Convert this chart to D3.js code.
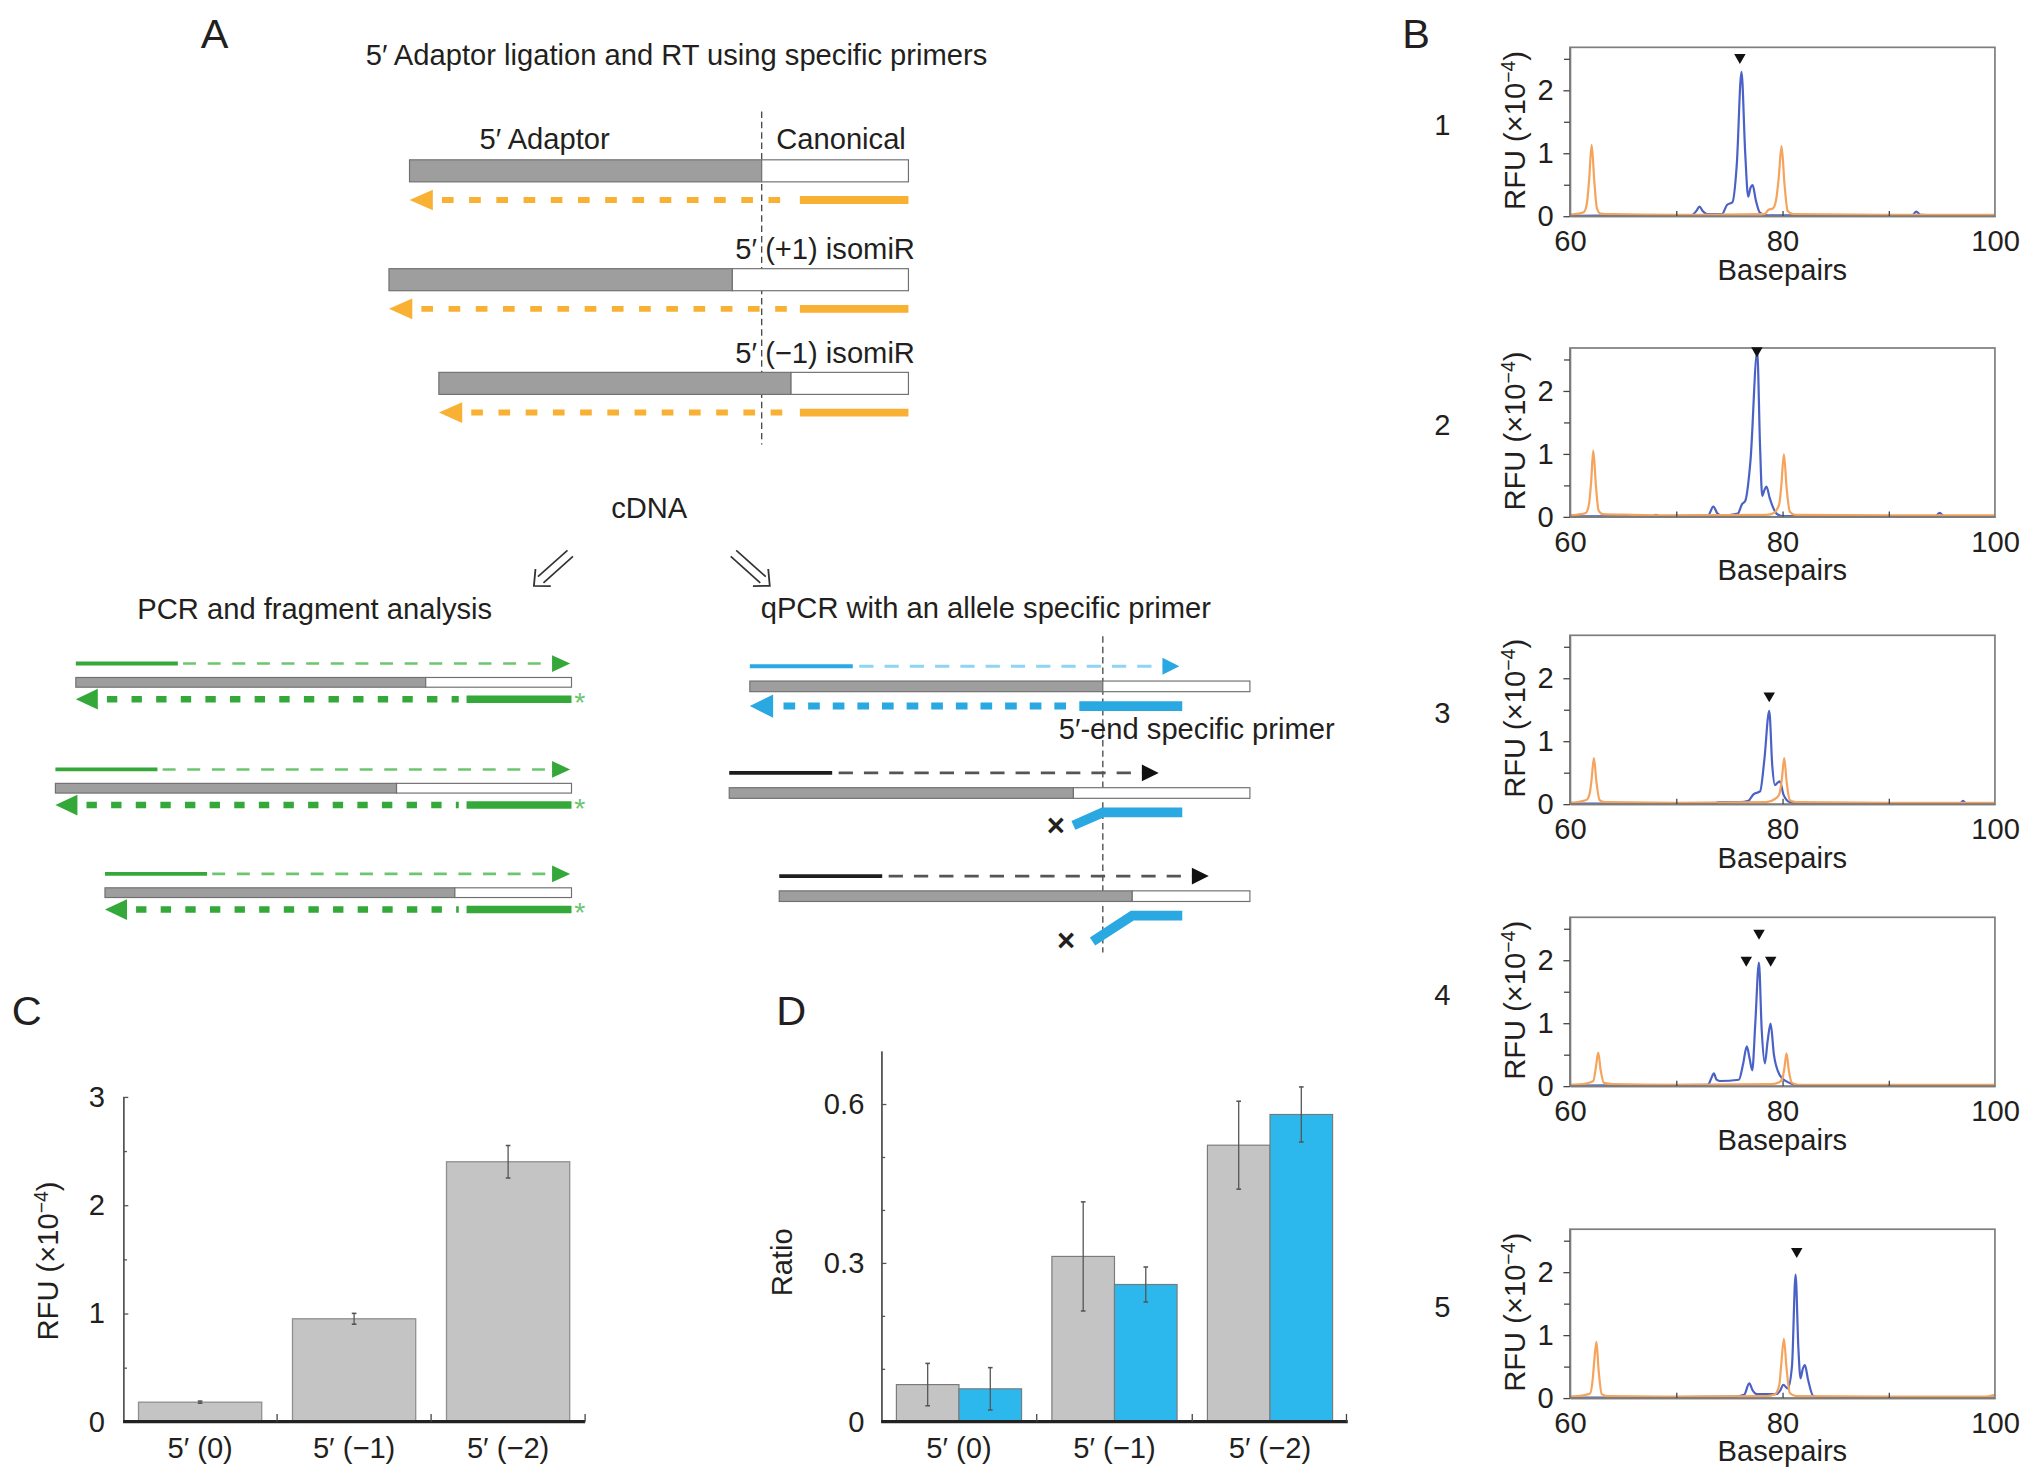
<!DOCTYPE html>
<html>
<head>
<meta charset="utf-8">
<style>
  body { margin: 0; background: #fff; }
  svg { display: block; }
  text { font-family: "Liberation Sans", Arial, Helvetica, sans-serif; fill: #231f20; }
</style>
</head>
<body>
<svg id="fig" width="2032" height="1483"></svg>
<script src="https://cdn.jsdelivr.net/npm/d3@7"></script>
<script>
// ---------------- data ----------------
// schematic constructs, positions in nucleotides relative to the canonical 5' end
const constructs = [
  { name: "Canonical",       start: -12,   junction: 0,  end: 5 },
  { name: "5\u2032 (+1) isomiR", start: -12.7, junction: -1, end: 5 },
  { name: "5\u2032 (\u22121) isomiR", start: -11, junction: 1, end: 5 }
];
const rtPrimerSolidFrom = 1.3;
const pcrPrimerSolidFrom = 1.4;
const fwdSolidLen = 3.5;
const qFwdLen = 14.6;
const qPrimer = [-0.8, 2.7];
// bent primer in rows 2 and 3: [bend start nt, end nt, drop]
const qBends = [null, [0, -1.0, 10], [1, -0.35, 20]];
const qCross = [null, [-1.6, 11], [-1.25, 20]];

// panel B: electropherograms, [basepairs, RFU x10^-4]
const bLabels = ["1", "2", "3", "4", "5"];
const bSizeStd = [
  [[60,0.02],[60.8,0.04],[61.3,0.06],[61.6,0.2],[61.8,0.55],[62.05,1.13],[62.3,0.55],[62.55,0.12],[62.9,0.04],[64,0.03],[70,0.02],[78.3,0.03],[78.7,0.1],[79.1,0.12],[79.4,0.25],[79.65,0.6],[79.92,1.11],[80.2,0.5],[80.5,0.08],[81,0.03],[90,0.02],[100,0.02]],
  [[60,0.02],[61.0,0.04],[61.5,0.06],[61.8,0.2],[62.0,0.55],[62.2,1.05],[62.45,0.5],[62.7,0.1],[63.1,0.04],[66,0.03],[70,0.02],[78.5,0.03],[79.2,0.06],[79.7,0.2],[79.9,0.5],[80.14,0.99],[80.4,0.45],[80.7,0.08],[81.2,0.03],[90,0.02],[100,0.02]],
  [[60,0.02],[61.0,0.04],[61.6,0.07],[61.9,0.2],[62.05,0.4],[62.26,0.73],[62.5,0.35],[62.8,0.06],[63.3,0.03],[70,0.02],[78.5,0.03],[79.3,0.08],[79.7,0.15],[79.95,0.4],[80.17,0.73],[80.4,0.35],[80.7,0.06],[81.3,0.03],[90,0.02],[100,0.02]],
  [[60,0.02],[61.5,0.04],[62.2,0.08],[62.45,0.3],[62.67,0.53],[62.9,0.25],[63.2,0.05],[64,0.03],[70,0.02],[79,0.03],[79.7,0.06],[80.0,0.12],[80.2,0.3],[80.39,0.52],[80.6,0.25],[80.9,0.05],[81.5,0.02],[90,0.02],[100,0.02]],
  [[60,0.02],[61.2,0.04],[61.9,0.07],[62.15,0.3],[62.3,0.6],[62.5,0.89],[62.7,0.45],[63.0,0.06],[63.5,0.03],[70,0.02],[78.5,0.03],[79.3,0.06],[79.7,0.2],[79.9,0.55],[80.14,0.94],[80.4,0.45],[80.7,0.08],[81.3,0.03],[90,0.02],[99,0.02],[100,0.05]]
];
const bSignal = [
  [[60,0.005],[71.4,0.01],[71.9,0.08],[72.2,0.15],[72.5,0.08],[72.9,0.03],[74.3,0.03],[74.8,0.18],[75.3,0.22],[75.7,0.8],[76.15,2.29],[76.5,1.0],[76.78,0.31],[77.0,0.45],[77.2,0.49],[77.5,0.25],[77.9,0.05],[78.6,0.01],[92.2,0.01],[92.6,0.07],[93.0,0.02],[100,0.005]],
  [[60,0.005],[67.8,0.01],[68.1,0.03],[68.4,0.01],[73.0,0.02],[73.5,0.16],[73.9,0.05],[74.3,0.02],[75.8,0.05],[76.2,0.2],[76.5,0.25],[77.0,0.9],[77.63,2.62],[77.9,1.1],[78.1,0.33],[78.3,0.42],[78.5,0.48],[78.8,0.3],[79.45,0.05],[80,0.01],[94.4,0.01],[94.8,0.06],[95.2,0.01],[100,0.005]],
  [[60,0.005],[73.6,0.01],[74,0.03],[76,0.03],[76.8,0.05],[77.25,0.15],[77.6,0.18],[77.9,0.2],[78.3,0.7],[78.76,1.48],[79.05,0.6],[79.3,0.3],[79.55,0.34],[79.76,0.36],[80.1,0.15],[80.7,0.03],[81.5,0.01],[96.7,0.01],[97,0.05],[97.3,0.01],[100,0.005]],
  [[60,0.005],[73.0,0.02],[73.3,0.12],[73.55,0.2],[73.8,0.1],[74.1,0.08],[75.9,0.1],[76.3,0.35],[76.65,0.63],[76.9,0.45],[77.16,0.25],[77.45,1.0],[77.79,1.96],[78.05,0.9],[78.35,0.36],[78.6,0.7],[78.89,0.99],[79.2,0.5],[79.76,0.17],[80.3,0.08],[81.0,0.03],[81.6,0.01],[100,0.005]],
  [[60,0.005],[75.5,0.02],[76.4,0.05],[76.88,0.23],[77.2,0.12],[77.6,0.06],[79.4,0.06],[79.8,0.12],[80.08,0.21],[80.5,0.15],[80.9,0.5],[81.24,1.96],[81.5,0.8],[81.71,0.31],[81.9,0.45],[82.12,0.52],[82.4,0.3],[82.9,0.03],[83.5,0.01],[100,0.005]]
];
const bMarkers = [
  [[76.0,2.52]],
  [[77.6,2.64]],
  [[78.76,1.72]],
  [[77.8,2.43],[76.6,2.0],[78.9,2.0]],
  [[81.35,2.33]]
];
const bXTicks = [60, 80, 100];
const bYTicks = [0, 1, 2];

// panel C
const cCategories = ["5\u2032 (0)", "5\u2032 (\u22121)", "5\u2032 (\u22122)"];
const cValues = [0.18, 0.95, 2.40];
const cErrors = [0.01, 0.05, 0.15];
const cTicks = [0, 1, 2, 3];

// panel D
const dSeries = ["fragment", "qpcr"];
const dFragment = [0.07, 0.312, 0.522];
const dFragmentErr = [0.04, 0.103, 0.083];
const dQpcr = [0.062, 0.259, 0.58];
const dQpcrErr = [0.04, 0.033, 0.052];
const dTicks = [0, 0.3, 0.6];

// ---------------- setup ----------------
const svg = d3.select("#fig").attr("viewBox", "0 0 1568 1144.3");
const FS = 22.5;
const GRAY = "#9e9e9e", ORANGE = "#f8b133", GREEN = "#35a83a", GREEN_L = "#6cc56f",
      BLUE = "#2aa8e2", BLUE_L = "#8fd4f2", BAR_GRAY = "#c4c4c4", BAR_BLUE = "#2db8ed";

function txt(g, x, y, s, size, anchor) {
  return g.append("text").attr("x", x).attr("y", y)
    .attr("font-size", size || FS).attr("text-anchor", anchor || "start").text(s);
}
function hline(g, x1, x2, y, color, w, dash) {
  return g.append("line").attr("x1", x1).attr("x2", x2).attr("y1", y).attr("y2", y)
    .attr("stroke", color).attr("stroke-width", w).attr("stroke-dasharray", dash || null);
}
function head(g, tip, y, dir, len, half, color) {
  g.append("path").attr("d", `M${tip},${y}L${tip - dir * len},${y - half}L${tip - dir * len},${y + half}Z`)
    .attr("fill", color);
}
function bar(g, x, c, yc, h) {
  g.append("rect").attr("x", x(c.start)).attr("y", yc - h / 2)
    .attr("width", x(c.junction) - x(c.start)).attr("height", h)
    .attr("fill", GRAY).attr("stroke", "#707070").attr("stroke-width", 0.9);
  g.append("rect").attr("x", x(c.junction)).attr("y", yc - h / 2)
    .attr("width", x(c.end) - x(c.junction)).attr("height", h)
    .attr("fill", "#fff").attr("stroke", "#707070").attr("stroke-width", 0.9);
}
function vdash(g, x, y1, y2) {
  g.append("line").attr("x1", x).attr("x2", x).attr("y1", y1).attr("y2", y2)
    .attr("stroke", "#444").attr("stroke-width", 1).attr("stroke-dasharray", "5,3");
}

// panel letters
txt(svg, 155, 37, "A", 32);
txt(svg, 1082, 37, "B", 32);
txt(svg, 9, 791, "C", 32);
txt(svg, 599, 791, "D", 32);

// ---------------- panel A: RT ----------------
const gA = svg.append("g");
const rtX = d3.scaleLinear().domain([-12, 5]).range([316, 701]);
const rtY = [131.8, 215.8, 295.8];
txt(gA, 522, 50, "5\u2032 Adaptor ligation and RT using specific primers", FS, "middle");
txt(gA, 370, 115, "5\u2032 Adaptor");
txt(gA, 599, 115, "Canonical");
vdash(gA, rtX(0), 86, 343);
constructs.forEach((c, i) => {
  const y = rtY[i];
  bar(gA, rtX, c, y, 17);
  if (i > 0) txt(gA, 706, y - 16, c.name, FS, "end");
  const py = y + 22.5, tip = rtX(c.start);
  head(gA, tip, py, -1, 18, 8, ORANGE);
  hline(gA, tip + 25, rtX(rtPrimerSolidFrom) - 8, py, ORANGE, 4.6, "9,12");
  hline(gA, rtX(rtPrimerSolidFrom), rtX(c.end), py, ORANGE, 6);
});

txt(gA, 501, 400, "cDNA", FS, "middle");

// hollow double arrows
function dblArrow(g, x1, y1, x2, y2) {
  const a = Math.atan2(y2 - y1, x2 - x1), off = 3.2, hl = 13;
  const nx = -Math.sin(a), ny = Math.cos(a);
  const bx = x2 - Math.cos(a) * 7, by = y2 - Math.sin(a) * 7;
  [-1, 1].forEach(s => g.append("line")
    .attr("x1", x1 + nx * off * s).attr("y1", y1 + ny * off * s)
    .attr("x2", bx + nx * off * s).attr("y2", by + ny * off * s)
    .attr("stroke", "#333").attr("stroke-width", 1.3));
  const p1 = [x2 - Math.cos(a - 0.75) * hl, y2 - Math.sin(a - 0.75) * hl];
  const p2 = [x2 - Math.cos(a + 0.75) * hl, y2 - Math.sin(a + 0.75) * hl];
  g.append("path").attr("d", `M${p1}L${x2},${y2}L${p2}`).attr("fill", "none")
    .attr("stroke", "#333").attr("stroke-width", 1.4);
}
dblArrow(gA, 440, 427, 412, 452);
dblArrow(gA, 566, 427, 594, 452);

// ---------------- panel A: PCR ----------------
txt(gA, 106, 477.5, "PCR and fragment analysis");
const pcrX = d3.scaleLinear().domain([-12, 5]).range([58.5, 441]);
const pcrY = [526.5, 608.2, 688.8];
constructs.forEach((c, i) => {
  const y = pcrY[i];
  bar(gA, pcrX, c, y, 7.5);
  // forward primer
  const fy = y - 14.5, s = pcrX(c.start);
  hline(gA, s, pcrX(c.start + fwdSolidLen), fy, GREEN, 3);
  hline(gA, pcrX(c.start + fwdSolidLen) + 4, pcrX(c.end) - 12, fy, GREEN_L, 2, "10,9");
  head(gA, pcrX(c.end) - 1, fy, 1, 14, 6.5, GREEN);
  // reverse labelled primer
  const ry = y + 13;
  head(gA, s, ry, -1, 17, 8, GREEN);
  hline(gA, s + 24, pcrX(pcrPrimerSolidFrom) - 6, ry, GREEN, 5, "8,11");
  hline(gA, pcrX(pcrPrimerSolidFrom), pcrX(c.end), ry, GREEN, 5.8);
  txt(gA, pcrX(c.end) + 6.5, ry + 10, "*", 22, "middle").style("fill", GREEN_L);
});

// ---------------- panel A: qPCR ----------------
txt(gA, 587, 477, "qPCR with an allele specific primer");
const qX = d3.scaleLinear().domain([-12, 5]).range([851 - 12 * 22.7, 851 + 5 * 22.7]);
const qY = [529.6, 611.9, 691.5];
vdash(gA, qX(0), 491, 735);
constructs.forEach((c, i) => {
  const y = qY[i];
  bar(gA, qX, c, y, 8.2);
  const fy = y - 15.5, s = qX(c.start);
  const solidC = i === 0 ? BLUE : "#1e1e1e", dashC = i === 0 ? BLUE_L : "#555";
  hline(gA, s, qX(c.start + fwdSolidLen), fy, solidC, 3);
  hline(gA, qX(c.start + fwdSolidLen) + 5, qX(c.start + qFwdLen) - 12, fy, dashC, 2.2, "11,8.5");
  head(gA, qX(c.start + qFwdLen), fy, 1, 13, 6.5, i === 0 ? BLUE : "#111");
  if (i === 0) {
    const ry = y + 15.2;
    head(gA, s, ry, -1, 18, 9, BLUE);
    hline(gA, s + 26, qX(qPrimer[0]) - 6, ry, BLUE, 5.5, "9,10");
    hline(gA, qX(qPrimer[0]), qX(qPrimer[1]), ry, BLUE, 7.5);
  } else {
    const [b0, b1, drop] = qBends[i];
    const ry = y + 15;
    gA.append("path")
      .attr("d", `M${qX(qPrimer[1])},${ry}L${qX(b0)},${ry}L${qX(b1)},${ry + drop}`)
      .attr("fill", "none").attr("stroke", BLUE).attr("stroke-width", 7.5);
    const [cx, cy] = qCross[i];
    txt(gA, qX(cx), y + 15 + cy + 7, "\u00d7", 24, "middle").attr("font-weight", "bold");
  }
});
txt(gA, 817, 570, "5\u2032-end specific primer");

// ---------------- panel B ----------------
const gB = svg.append("g");
const bx = d3.scaleLinear().domain([60, 100]).range([1211.4, 1539.4]);
const bTop = [36.5, 268.5, 490.2, 707.8, 948.5];
const bH = 130.2;
const traceLine = d3.line().curve(d3.curveMonotoneX);
svg.append("defs").append("clipPath").attr("id", "bclip")
  .append("rect").attr("x", 0).attr("y", 0).attr("width", bx(100) - bx(60)).attr("height", bH + 1);

bLabels.forEach((lab, i) => {
  const top = bTop[i], bottom = top + bH;
  const y = d3.scaleLinear().domain([0, 2.68]).range([bottom, top]);
  const g = gB.append("g");
  txt(g, 1113, top + 67.5, lab, FS, "middle");

  // rotated y label
  const yl = g.append("text").attr("transform", `translate(1177,${top + bH / 2 - 1}) rotate(-90)`)
    .attr("text-anchor", "middle").attr("font-size", FS);
  yl.append("tspan").text("RFU (\u00d710");
  yl.append("tspan").attr("dy", -8).attr("font-size", 15).text("\u22124");
  yl.append("tspan").attr("dy", 8).text(")");

  // traces
  const plot = g.append("g").attr("transform", `translate(${bx(60)},${top})`)
    .append("g").attr("clip-path", "url(#bclip)")
    .append("g").attr("transform", `translate(${-bx(60)},${-top})`);
  plot.append("path").attr("d", traceLine(bSignal[i].map(d => [bx(d[0]), y(d[1])])))
    .attr("fill", "none").attr("stroke", "#4a62c6").attr("stroke-width", 1.7);
  plot.append("path").attr("d", traceLine(bSizeStd[i].map(d => [bx(d[0]), y(d[1])])))
    .attr("fill", "none").attr("stroke", "#f6a35b").attr("stroke-width", 1.7);

  // frame
  g.append("rect").attr("x", bx(60)).attr("y", top).attr("width", bx(100) - bx(60)).attr("height", bH)
    .attr("fill", "none").attr("stroke", "#7d7d7d").attr("stroke-width", 1.3);

  // axes
  g.append("g").attr("transform", `translate(${bx(60)},0)`)
    .call(d3.axisLeft(y).tickValues(bYTicks).tickSize(5).tickPadding(7.5).tickSizeOuter(0)
      .tickFormat(d3.format("d")));
  g.append("g").attr("transform", `translate(${bx(60)},0)`)
    .call(d3.axisLeft(y).tickValues([0.5, 1.5, 2.5]).tickSize(4.5).tickFormat("").tickSizeOuter(0));
  g.append("g").attr("transform", `translate(0,${bottom})`)
    .call(d3.axisBottom(bx).tickValues(bXTicks).tickSize(0).tickPadding(11).tickFormat(d3.format("d")));
  g.append("g").attr("transform", `translate(0,${bottom})`)
    .call(d3.axisBottom(bx).tickValues([70, 80, 90]).tickSize(-4).tickFormat("").tickSizeOuter(0));
  txt(g, bx(80), bottom + 49, "Basepairs", FS, "middle");

  // peak markers
  g.selectAll("path.mk").data(bMarkers[i]).join("path").attr("class", "mk")
    .attr("d", d3.symbol(d3.symbolTriangle, 34))
    .attr("transform", d => `translate(${bx(d[0])},${y(d[1])}) rotate(180)`)
    .attr("fill", "#111");
});
gB.selectAll(".domain").attr("stroke", "#7d7d7d");
gB.selectAll(".tick line").attr("stroke", "#444");
gB.selectAll(".tick text").attr("font-size", FS).attr("font-family", null).style("fill", "#231f20");

// ---------------- panel C ----------------
const gC = svg.append("g");
const cX = d3.scaleBand().domain(cCategories).range([95, 451.5]).paddingInner(0.2).paddingOuter(0.1);
const cY = d3.scaleLinear().domain([0, 3]).range([1097, 846.3]);
gC.selectAll("rect").data(cValues).join("rect")
  .attr("x", (d, i) => cX(cCategories[i])).attr("width", cX.bandwidth())
  .attr("y", d => cY(d)).attr("height", d => cY(0) - cY(d))
  .attr("fill", BAR_GRAY).attr("stroke", "#8f8f8f").attr("stroke-width", 1);
cValues.forEach((v, i) => {
  const cx = cX(cCategories[i]) + cX.bandwidth() / 2;
  gC.append("line").attr("x1", cx).attr("x2", cx).attr("y1", cY(v - cErrors[i])).attr("y2", cY(v + cErrors[i]))
    .attr("stroke", "#555").attr("stroke-width", 1);
  [v - cErrors[i], v + cErrors[i]].forEach(e => hline(gC, cx - 1.8, cx + 1.8, cY(e), "#555", 1.2));
});
gC.append("g").attr("transform", "translate(95,0)")
  .call(d3.axisLeft(cY).tickValues(cTicks).tickSize(-4).tickPadding(14).tickSizeOuter(0).tickFormat(d3.format("d")));
gC.append("g").attr("transform", "translate(95,0)")
  .call(d3.axisLeft(cY).tickValues([0.5, 1.5, 2.5]).tickSize(-3).tickFormat("").tickSizeOuter(0));
gC.append("g").attr("transform", "translate(0,1097)")
  .call(d3.axisBottom(cX).tickSize(0).tickPadding(12)).select(".domain").remove();
hline(gC, 95, 451.5, 1097, "#222", 2.4);
cCategories.forEach((c, i) => {
  const x = 95 + cX.step() * (i + 1);
  gC.append("line").attr("x1", x).attr("x2", x).attr("y1", 1097).attr("y2", 1091).attr("stroke", "#444");
});
const cyl = gC.append("text").attr("transform", "translate(45,973) rotate(-90)")
  .attr("text-anchor", "middle").attr("font-size", FS);
cyl.append("tspan").text("RFU (\u00d710");
cyl.append("tspan").attr("dy", -8).attr("font-size", 15).text("\u22124");
cyl.append("tspan").attr("dy", 8).text(")");

// ---------------- panel D ----------------
const gD = svg.append("g");
const dX0 = d3.scaleBand().domain(cCategories).range([680, 1040]).paddingInner(0.195).paddingOuter(0.0975);
const dX1 = d3.scaleBand().domain(dSeries).range([0, dX0.bandwidth()]);
const dY = d3.scaleLinear().domain([0, 0.7]).range([1097, 1097 - 0.7 * 408.7]);
const dColor = d3.scaleOrdinal().domain(dSeries).range([BAR_GRAY, BAR_BLUE]);
const dVals = { fragment: dFragment, qpcr: dQpcr };
const dErrs = { fragment: dFragmentErr, qpcr: dQpcrErr };
dSeries.forEach(s => {
  dVals[s].forEach((v, i) => {
    const x = dX0(cCategories[i]) + dX1(s);
    gD.append("rect").attr("x", x).attr("width", dX1.bandwidth())
      .attr("y", dY(v)).attr("height", dY(0) - dY(v))
      .attr("fill", dColor(s)).attr("stroke", "#7a7a7a").attr("stroke-width", 0.9);
    const cx = x + dX1.bandwidth() / 2, e = dErrs[s][i];
    gD.append("line").attr("x1", cx).attr("x2", cx).attr("y1", dY(v - e)).attr("y2", dY(v + e))
      .attr("stroke", "#555").attr("stroke-width", 1);
    [v - e, v + e].forEach(t => hline(gD, cx - 1.8, cx + 1.8, dY(t), "#555", 1.2));
  });
});
gD.append("g").attr("transform", "translate(680,0)")
  .call(d3.axisLeft(dY).tickValues(dTicks).tickSize(-4).tickPadding(13).tickSizeOuter(0)
    .tickFormat(d => d === 0 ? "0" : d.toFixed(1)));
gD.append("g").attr("transform", "translate(680,0)")
  .call(d3.axisLeft(dY).tickValues([0.1, 0.2, 0.4, 0.5]).tickSize(-3).tickFormat("").tickSizeOuter(0));
gD.append("g").attr("transform", "translate(0,1097)")
  .call(d3.axisBottom(dX0).tickSize(0).tickPadding(12)).select(".domain").remove();
hline(gD, 680, 1040, 1097, "#222", 2.4);
cCategories.forEach((c, i) => {
  const x = 680 + dX0.step() * (i + 1) - (i === 2 ? 1 : 0);
  gD.append("line").attr("x1", x).attr("x2", x).attr("y1", 1097).attr("y2", 1091).attr("stroke", "#444");
});
gD.append("text").attr("transform", "translate(611,974) rotate(-90)")
  .attr("text-anchor", "middle").attr("font-size", FS).text("Ratio");

[gC, gD].forEach(g => {
  g.selectAll(".domain").attr("stroke", "#555").attr("stroke-width", 1.1);
  g.selectAll(".tick line").attr("stroke", "#555");
  g.selectAll(".tick text").attr("font-size", FS).attr("font-family", null).style("fill", "#231f20");
});
</script>
</body>
</html>
